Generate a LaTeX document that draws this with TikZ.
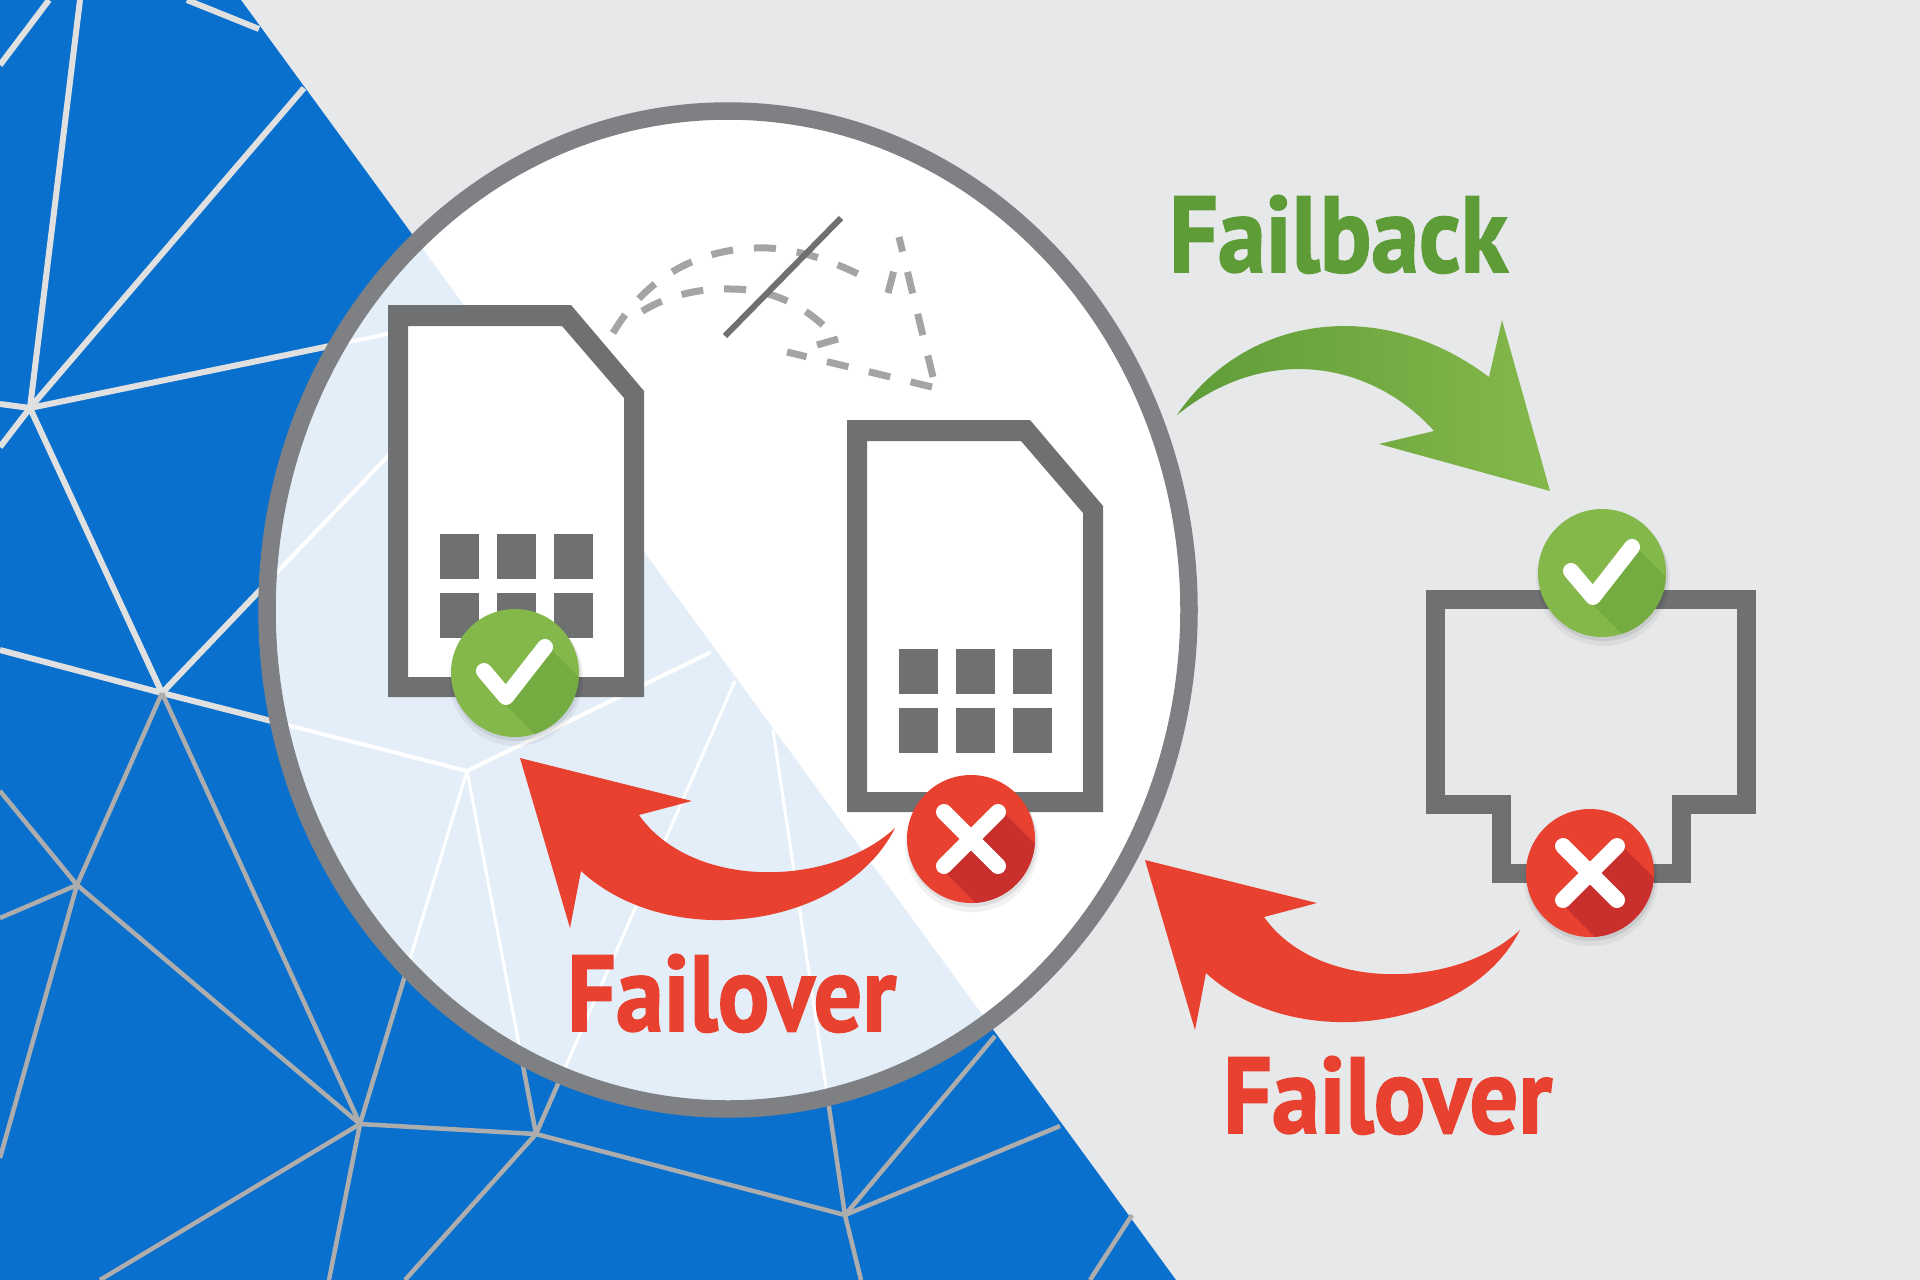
\documentclass[tikz,border=0pt]{standalone}
\usepackage{fontspec}
\usepackage{tikz}
\usetikzlibrary{arrows, math}
\newfontfamily\labelfont{PT Sans}[FakeStretch=0.89,BoldFeatures={FakeBold=1.5}]
\definecolor{backgrey}{HTML}{E7E8EA}
\definecolor{meshblue}{HTML}{0A70CE}
\definecolor{lensblue}{HTML}{E4EEF8}
\definecolor{rimgrey}{HTML}{7E8083}
\definecolor{simgrey}{HTML}{6F7072}
\definecolor{dashgrey}{HTML}{A2A4A6}
\definecolor{okgreen}{HTML}{85B84B}
\definecolor{okdark}{HTML}{74AC42}
\definecolor{oktext}{HTML}{5E9C38}
\definecolor{koreddish}{HTML}{E8412F}
\definecolor{kodark}{HTML}{C82F2D}
\tikzset{
  meshtop/.style={color=black!12!white, line width=6pt},
  meshlow/.style={color=black!32!white, line width=4.5pt},
  simline/.style={draw=simgrey, line width=19pt, miter limit=10},
  dashline/.style={draw=dashgrey, line width=7pt, dash pattern=on 22pt off 21pt},
  flowlabel/.style={inner sep=0pt, anchor=base west, font=\labelfont\bfseries\fontsize{108}{120}\selectfont}
}
\newcommand{\meshlines}{
\draw[meshtop] (49,0) to (0,65);
\draw[meshtop] (187,0) to (259,29);
\draw[meshtop] (hubA) to (80,0);
\draw[meshtop] (hubA) to (304,88);
\draw[meshtop] (hubA) to (470,317);
\draw[meshtop] (hubA) to (0,404);
\draw[meshtop] (hubA) to (0,447);
\draw[meshtop] (hubA) to (hubB);
\draw[meshtop] (hubB) to (470,370);
\draw[meshtop] (hubB) to (0,650);
\draw[meshtop] (hubB) to (hubC);
\draw[meshlow] (hubB) to (hubD);
\draw[meshlow] (hubB) to (hubE);
\draw[meshlow] (hubD) to (0,918);
\draw[meshlow] (hubD) to (0,791);
\draw[meshlow] (hubD) to (hubE);
\draw[meshlow] (hubD) to (0,1158);
\draw[meshlow] (hubE) to (hubF);
\draw[meshlow] (hubE) to (hubC);
\draw[meshlow] (hubE) to (100,1280);
\draw[meshlow] (hubE) to (329,1280);
\draw[meshlow] (hubF) to (405,1280);
\draw[meshlow] (hubF) to (hubC);
\draw[meshlow] (hubF) to (735,681);
\draw[meshlow] (hubF) to (hubG);
\draw[meshlow] (hubG) to (773,730);
\draw[meshlow] (hubG) to (995,1036);
\draw[meshlow] (hubG) to (1060,1126);
\draw[meshlow] (hubG) to (861,1280);
\draw[meshlow] (1132,1215) to (1090,1280);
\draw[meshtop] (hubC) to (711,652);
}
\newcommand{\okbadge}[2]{
\begin{scope}[shift={(#1,#2)}]
\fill[black, opacity=0.05] (1,6) circle (67);
\fill[black, opacity=0.08] (1,3) circle (65);
\fill[okgreen] (0,0) circle (64);
\begin{scope}
\clip (0,0) circle (64);
\fill[okdark] (32,-28) -- (132,72) -- (91,132) -- (-9,32) -- cycle;
\end{scope}
\draw[white, line width=16pt, line cap=round, line join=round] (-31,-2) -- (-9,24) -- (30,-26);
\end{scope}
}
\newcommand{\kobadge}[2]{
\begin{scope}[shift={(#1,#2)}]
\fill[black, opacity=0.05] (1,6) circle (67);
\fill[black, opacity=0.08] (1,3) circle (65);
\fill[koreddish] (0,0) circle (64);
\begin{scope}
\clip (0,0) circle (64);
\fill[kodark] (30,-29) -- (130,71) -- (71,130) -- (-29,30) -- cycle;
\end{scope}
\draw[white, line width=16pt, line cap=round] (-27,-27) -- (27,27);
\draw[white, line width=16pt, line cap=round] (27,-27) -- (-27,27);
\end{scope}
}
\begin{document}
\begin{tikzpicture}[x=1pt,y=-1pt]
\useasboundingbox (0,0) rectangle (1920,1280);
\clip (0,0) rectangle (1920,1280);
\fill[backgrey] (0,0) rectangle (1920,1280);
\fill[meshblue] (0,0) -- (241,0) -- (1176,1280) -- (0,1280) -- cycle;
\coordinate (hubA) at (30,408);
\coordinate (hubB) at (162,693);
\coordinate (hubC) at (467,771);
\coordinate (hubD) at (77,885);
\coordinate (hubE) at (360,1124);
\coordinate (hubF) at (536,1134);
\coordinate (hubG) at (845,1215);
\meshlines
\coordinate (lens) at (728,610);
\fill[white] (lens) ellipse (461 and 499);
\begin{scope}[meshtop/.style={color=white, line width=4pt}, meshlow/.style={color=white, line width=3pt}]
\clip (lens) ellipse (461 and 499);
\clip (0,0) -- (241,0) -- (1176,1280) -- (0,1280) -- cycle;
\fill[lensblue] (0,0) rectangle (1920,1280);
\meshlines
\end{scope}
\draw[rimgrey, line width=17.5pt] (lens) ellipse (461 and 499);
\foreach \dx/\dy in {0/0,459/115} {
\begin{scope}[shift={(\dx,\dy)}]
\fill[white] (388,305) -- (571,305) -- (644,391) -- (644,697) -- (388,697) -- cycle;
\fill[simgrey, even odd rule] (388,305) -- (571,305) -- (644,391) -- (644,697) -- (388,697) -- cycle (408,326) -- (562,326) -- (624,398) -- (624,677) -- (408,677) -- cycle;
\foreach \cx in {440,497,554}
\foreach \cy in {534,593}
\fill[simgrey] (\cx,\cy) rectangle +(39,45);
\end{scope}
}
\draw[dashline] (613,333) .. controls (650,270) and (710,246) .. (768,248) .. controls (805,250) and (840,265) .. (860,275);
\draw[dashline] (888,293) -- (894,270);
\draw[dashline, dash phase=7pt] (899,237) -- (933,377);
\draw[dashline] (932,387) -- (787,352);
\draw[dashline] (838,339) -- (817,345);
\draw[dashline] (823,325) .. controls (795,300) and (765,289) .. (730,289) .. controls (695,288) and (660,298) .. (635,316);
\draw[simgrey, line width=6pt] (725,336) -- (841,218);
\shade[left color=oktext, middle color=okdark, right color=okgreen] (1177,415) .. controls (1245,315) and (1380,295) .. (1489,377) -- (1502,320) -- (1550,491) -- (1379,444) -- (1434,431) .. controls (1375,365) and (1270,340) .. (1177,415) -- cycle;
\foreach \dx/\dy in {520/758,1145/860} {
\fill[koreddish, shift={(\dx,\dy)}] (0,0) -- (172,43) -- (119,57) .. controls (172,132) and (310,130) .. (375,70) .. controls (325,170) and (150,195) .. (61,113) -- (50,170) -- cycle;
}
\draw[simline] (1435,599) -- (1746,599) -- (1746,804) -- (1681,804) -- (1681,873) -- (1501,873) -- (1501,804) -- (1435,804) -- cycle;
\okbadge{515}{673}
\kobadge{971}{839}
\okbadge{1602}{573}
\kobadge{1590}{873}
\node[flowlabel, text=oktext] (failback) at (1169,272) {Failback};
\node[flowlabel, text=koreddish] (failoverlens) at (567,1031) {Failover};
\node[flowlabel, text=koreddish] (failoverjack) at (1223,1133) {Failover};
\end{tikzpicture}
\end{document}
